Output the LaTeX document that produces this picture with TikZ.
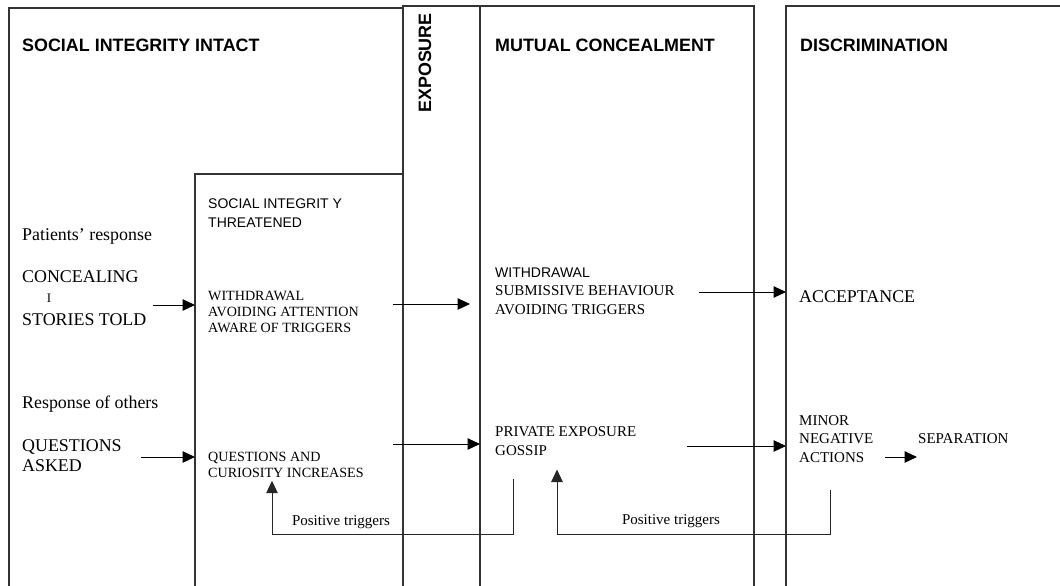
\documentclass[tikz,border=0pt]{standalone}
\usepackage{fontspec}
\setmainfont{Liberation Serif}
\newfontfamily\arialf{Liberation Sans}
\usetikzlibrary{arrows.meta}
\tikzset{
  frame/.style={draw=black!80, line width=1.2pt},
  head/.style={font=\arialf\bfseries\fontsize{17.9}{20}\selectfont, inner sep=0pt, anchor=west},
  sanslbl/.style={font=\arialf\fontsize{14}{18.5}\selectfont, inner sep=0pt, anchor=west, align=left},
  bigtxt/.style={font=\fontsize{17.9}{20}\selectfont, inner sep=0pt, anchor=west, align=left},
  midtxt/.style={font=\fontsize{14.1}{16}\selectfont, inner sep=0pt, anchor=west, align=left},
  medtxt/.style={font=\fontsize{15}{18.3}\selectfont, inner sep=0pt, anchor=west, align=left},
  flow/.style={draw=black, line width=1pt, -{Triangle[length=12.5pt,width=11.5pt]}},
  loopline/.style={draw=black!85, line width=1pt, -{Triangle[length=12.5pt,width=11.5pt]}}
}
\begin{document}
\begin{tikzpicture}[x=1pt,y=-1pt]
\useasboundingbox (0,0) rectangle (1060,586);
% frames (open at the bottom)
\draw[frame] (9,586) -- (9,8) -- (403,8);
\draw[frame] (403,586) -- (403,6) -- (480,6) -- (480,586);
\draw[frame] (480,6) -- (754,6) -- (754,586);
\draw[frame] (786,586) -- (786,6) -- (1060,6);
\draw[frame] (195,586) -- (195,174) -- (403,174);
% headings
\node[head] (h1) at (22,45.5) {SOCIAL INTEGRITY INTACT};
\node[head, anchor=center, rotate=90] (h2) at (425,63) {EXPOSURE};
\node[head] (h3) at (495,45.5) {MUTUAL CONCEALMENT};
\node[head] (h4) at (800,45.5) {DISCRIMINATION};
\node[sanslbl] (h5) at (208,213) {SOCIAL INTEGRIT Y\\THREATENED};
% left column
\node[bigtxt] (pr) at (22,236) {Patients' response};
\node[bigtxt] (conc) at (22,277) {CONCEALING};
\node[font=\fontsize{13}{14}\selectfont, inner sep=0pt] (bar) at (49,298.5) {I};
\node[bigtxt] (stor) at (22,320) {STORIES TOLD};
\node[bigtxt] (ro) at (22,404) {Response of others};
\node[bigtxt] (qa) at (22,456) {QUESTIONS\\ASKED};
% threatened column
\node[midtxt] (wd1) at (208,312) {WITHDRAWAL\\AVOIDING ATTENTION\\AWARE OF TRIGGERS};
\node[midtxt, font=\fontsize{14.1}{15.5}\selectfont] (qc) at (208,465) {QUESTIONS AND\\CURIOSITY INCREASES};
% mutual concealment column
\node[medtxt] (wd2) at (495,291) {{\arialf\fontsize{14}{18}\selectfont WITHDRAWAL}\\SUBMISSIVE BEHAVIOUR\\AVOIDING TRIGGERS};
\node[medtxt] (pe) at (495,441) {PRIVATE EXPOSURE\\GOSSIP};
% discrimination column
\node[bigtxt] (acc) at (799,297) {ACCEPTANCE};
\node[medtxt] (mna) at (799,439) {MINOR\\NEGATIVE\\ACTIONS};
\node[medtxt] (sep) at (918,439) {SEPARATION};
% arrow end points
\coordinate (a1s) at (153,305); \coordinate (a1e) at (195,305);
\coordinate (a2s) at (393,304); \coordinate (a2e) at (470,304);
\coordinate (a3s) at (699,292); \coordinate (a3e) at (786,292);
\coordinate (a4s) at (141,457); \coordinate (a4e) at (195,457);
\coordinate (a5s) at (393,444); \coordinate (a5e) at (480,444);
\coordinate (a6s) at (687,446); \coordinate (a6e) at (786,446);
\coordinate (a7s) at (885,457); \coordinate (a7e) at (917,457);
\draw[flow] (a1s) -- (a1e);
\draw[flow] (a2s) -- (a2e);
\draw[flow] (a3s) -- (a3e);
\draw[flow] (a4s) -- (a4e);
\draw[flow] (a5s) -- (a5e);
\draw[flow] (a6s) -- (a6e);
\draw[flow] (a7s) -- (a7e);
% feedback loops
\coordinate (l1s) at (513.5,478.6); \coordinate (l1b) at (513.5,534.7);
\coordinate (l1c) at (272,534.7); \coordinate (l1e) at (272,480.7);
\draw[loopline] (l1s) -- (l1b) -- (l1c) -- (l1e);
\node[font=\fontsize{15}{18}\selectfont, inner sep=0pt] (pt1) at (341,522) {Positive triggers};
\coordinate (l2s) at (830,490); \coordinate (l2b) at (830,534.7);
\coordinate (l2c) at (557,534.7); \coordinate (l2e) at (557,469.5);
\draw[loopline] (l2s) -- (l2b) -- (l2c) -- (l2e);
\node[font=\fontsize{15}{18}\selectfont, inner sep=0pt] (pt2) at (671,521) {Positive triggers};
\end{tikzpicture}
\end{document}
